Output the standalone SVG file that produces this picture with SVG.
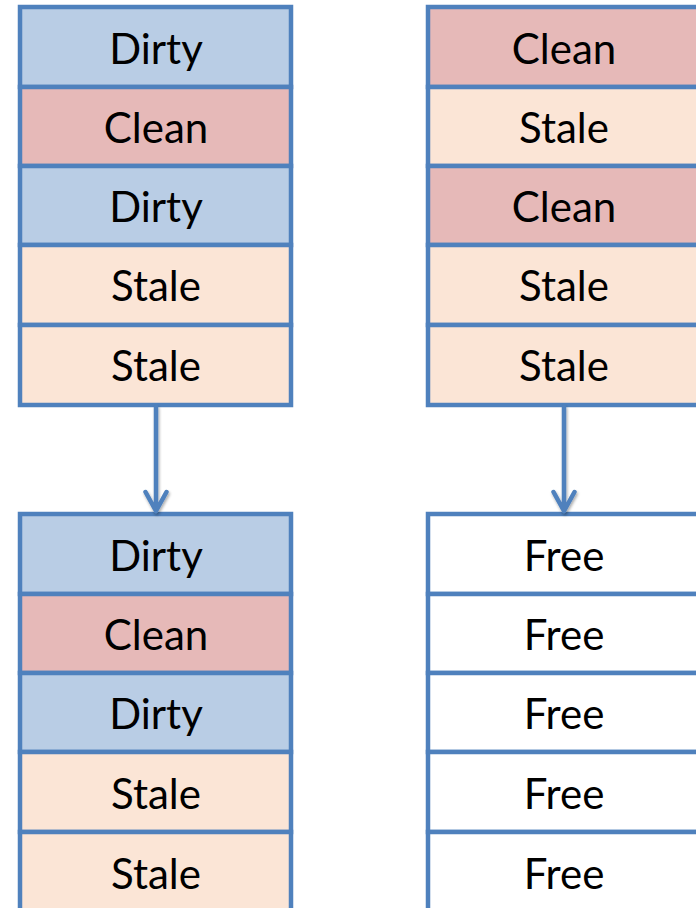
<svg xmlns="http://www.w3.org/2000/svg" width="696" height="908" viewBox="0 0 696 908">
  <style>
    .cell { stroke: #4F81BD; stroke-width: 4.5; }
    .dirty { fill: #B9CDE5; }
    .clean { fill: #E6B9B8; }
    .stale { fill: #FBE5D6; }
    .free { fill: #FFFFFF; }
    text { font-family: Lato, "Liberation Sans", sans-serif; font-size: 42px; fill: #000000; text-anchor: middle; }
    .conn { stroke: #4F81BD; stroke-width: 4.5; fill: none; stroke-linecap: round; stroke-linejoin: round; }
  </style>
  <defs>
    <filter id="shadow" x="-50%" y="-10%" width="200%" height="130%">
      <feGaussianBlur in="SourceAlpha" stdDeviation="1.5"/>
      <feOffset dx="1" dy="2" result="b"/>
      <feComponentTransfer><feFuncA type="linear" slope="0.35"/></feComponentTransfer>
      <feMerge><feMergeNode/><feMergeNode in="SourceGraphic"/></feMerge>
    </filter>
  </defs>

  <rect width="696" height="908" fill="#FFFFFF"/>

  <!-- left column, before -->
  <g id="left-top">
    <rect class="cell dirty" x="20" y="7" width="271" height="80"/>
    <text x="156" y="64">Dirty</text>
    <rect class="cell clean" x="20" y="87" width="271" height="79"/>
    <text x="156" y="143">Clean</text>
    <rect class="cell dirty" x="20" y="166" width="271" height="79"/>
    <text x="156" y="222">Dirty</text>
    <rect class="cell stale" x="20" y="245" width="271" height="80"/>
    <text x="156" y="301">Stale</text>
    <rect class="cell stale" x="20" y="325" width="271" height="80"/>
    <text x="156" y="381">Stale</text>
  </g>

  <!-- right column, before -->
  <g id="right-top">
    <rect class="cell clean" x="428" y="7" width="271" height="80"/>
    <text x="564" y="64">Clean</text>
    <rect class="cell stale" x="428" y="87" width="271" height="79"/>
    <text x="564" y="143">Stale</text>
    <rect class="cell clean" x="428" y="166" width="271" height="79"/>
    <text x="564" y="222">Clean</text>
    <rect class="cell stale" x="428" y="245" width="271" height="80"/>
    <text x="564" y="301">Stale</text>
    <rect class="cell stale" x="428" y="325" width="271" height="80"/>
    <text x="564" y="381">Stale</text>
  </g>

  <!-- left column, after -->
  <g id="left-bottom">
    <rect class="cell dirty" x="20" y="514" width="271" height="80"/>
    <text x="156" y="571">Dirty</text>
    <rect class="cell clean" x="20" y="594" width="271" height="79"/>
    <text x="156" y="650">Clean</text>
    <rect class="cell dirty" x="20" y="673" width="271" height="79"/>
    <text x="156" y="729">Dirty</text>
    <rect class="cell stale" x="20" y="752" width="271" height="80"/>
    <text x="156" y="809">Stale</text>
    <rect class="cell stale" x="20" y="832" width="271" height="80"/>
    <text x="156" y="889">Stale</text>
  </g>

  <!-- right column, after -->
  <g id="right-bottom">
    <rect class="cell free" x="428" y="514" width="271" height="80"/>
    <text x="564" y="571">Free</text>
    <rect class="cell free" x="428" y="594" width="271" height="79"/>
    <text x="564" y="650">Free</text>
    <rect class="cell free" x="428" y="673" width="271" height="79"/>
    <text x="564" y="729">Free</text>
    <rect class="cell free" x="428" y="752" width="271" height="80"/>
    <text x="564" y="809">Free</text>
    <rect class="cell free" x="428" y="832" width="271" height="80"/>
    <text x="564" y="889">Free</text>
  </g>

  <!-- connectors -->
  <g id="connectors" filter="url(#shadow)">
    <path class="conn" d="M156 407 V511 M145.5 492 L156 511 L166.5 492"/>
    <path class="conn" d="M564 407 V511 M553.5 492 L564 511 L574.5 492"/>
  </g>
</svg>
